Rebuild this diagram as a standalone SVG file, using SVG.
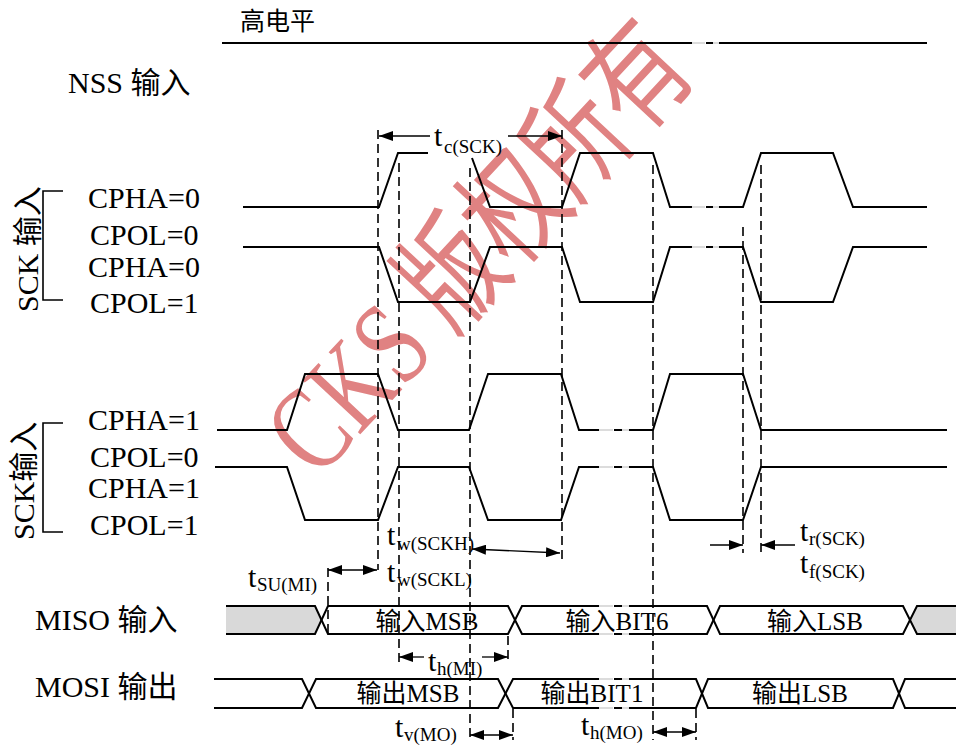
<svg xmlns="http://www.w3.org/2000/svg" width="956" height="745" viewBox="0 0 956 745">
<defs>
<style>
text { font-family: "Liberation Serif", "Noto Sans CJK SC", serif; fill: #000; }
.lbl { font-size: 30px; }
.bus { font-size: 25px; text-anchor: middle; }
.t { font-size: 30px; }
.sub { font-size: 19px; }
.wave { fill: none; stroke: #000; stroke-width: 2; stroke-linejoin: miter; }
.faint { fill: none; stroke: #dcdcdc; stroke-width: 2; }
.dash { fill: none; stroke: #000; stroke-width: 1.6; stroke-dasharray: 9 5; }
.arr { fill: none; stroke: #000; stroke-width: 1.3; }
.brk { fill: none; stroke: #000; stroke-width: 1.6; }
.gray { fill: #d9d9d9; stroke: none; }
.wm { font-size: 93px; fill: #e08282; }
</style>
<marker id="ah" viewBox="0 0 14 10" refX="14" refY="5" markerWidth="14" markerHeight="10" markerUnits="userSpaceOnUse" orient="auto-start-reverse">
<path d="M0,0 L14,5 L0,10 z" fill="#000"/>
</marker>
</defs>
<rect width="956" height="745" fill="#fff"/>

<g id="watermark">
<text class="wm" transform="translate(508,276) rotate(-47) scale(0.97,1.3)" text-anchor="middle">CKS 版权所有</text>
</g>

<g id="nss">
<text class="lbl" x="68" y="93">NSS 输入</text>
<text x="240" y="30" font-size="25">高电平</text>
<path class="wave" d="M222,43 H692 M706,43 H713 M719,43 H927"/>
<path class="faint" d="M692,43 H705 M713,43 H719"/>
</g>

<g id="sck-cpha0">
<text class="lbl" transform="translate(38,312) rotate(-90)">SCK 输入</text>
<path class="brk" d="M63,191 H43 V300 H63"/>
<text class="lbl" x="88" y="208">CPHA=0</text>
<text class="lbl" x="90" y="245">CPOL=0</text>
<text class="lbl" x="88" y="277">CPHA=0</text>
<text class="lbl" x="90" y="313">CPOL=1</text>
<path class="wave" d="M243,207 H379 L398,153 H428 M472,158 L490,207 H562 L580,153 H653 L670,207 H692 M706,207 H713 M719,207 H743 L761,153 H833 L853,207 H927"/>
<path class="wave" d="M243,247 H379 L398,302 H470 L490,247 H562 L580,302 H653 L670,247 H692 M706,247 H713 M719,247 H743 L761,302 H833 L853,247 H927"/>
<path class="faint" d="M692,207 H705 M713,207 H719 M692,247 H705 M713,247 H719"/>
</g>

<g id="sck-cpha1">
<text class="lbl" transform="translate(34,540) rotate(-90)">SCK输入</text>
<path class="brk" d="M63,423 H43 V532 H63"/>
<text class="lbl" x="88" y="430">CPHA=1</text>
<text class="lbl" x="90" y="467">CPOL=0</text>
<text class="lbl" x="88" y="498">CPHA=1</text>
<text class="lbl" x="90" y="535">CPOL=1</text>
<path class="wave" d="M217,430 H287 L305,374 H378 L398,430 H469 L488,374 H561 L579,430 H599 M614,430 H622 M629,430 H653 L670,374 H743 L761,430 H947"/>
<path class="wave" d="M215,467 H287 L305,520 H378 L398,467 H469 L488,520 H561 L579,467 H599 M614,467 H622 M629,467 H653 L670,520 H743 L761,467 H947"/>
<path class="faint" d="M599,430 H613 M622,430 H629 M599,467 H613 M622,467 H629"/>
</g>

<g id="miso">
<text class="lbl" x="35" y="630">MISO 输入</text>
<path class="gray" d="M226,606 H315 L321.5,620 L315,634 H226 z"/>
<path class="gray" d="M917,606 L910,620 L917,634 H956 V606 z"/>
<path class="wave" d="M226,606 H315 L328,634 H508 L522,606 H599 M614,606 H622 M629,606 H707 L720,634 H903 L917,606 H956"/>
<path class="wave" d="M226,634 H315 L328,606 H508 L522,634 H599 M614,634 H622 M629,634 H707 L720,606 H903 L917,634 H956"/>
<path class="faint" d="M599,606 H613 M622,606 H629 M599,634 H613 M622,634 H629"/>
<text class="bus" x="427" y="630">输入MSB</text>
<text class="bus" x="617" y="630">输入BIT6</text>
<text class="bus" x="815" y="630">输入LSB</text>
</g>

<g id="mosi">
<text class="lbl" x="35" y="697">MOSI 输出</text>
<path class="wave" d="M214,679 H302 L316,708 H498 L513,679 H599 M614,679 H622 M629,679 H696 L708,708 H893 L905,679 H956"/>
<path class="wave" d="M214,708 H302 L316,679 H498 L513,708 H599 M614,708 H622 M629,708 H696 L708,679 H893 L905,708 H956"/>
<path class="faint" d="M599,679 H613 M622,679 H629 M599,708 H613 M622,708 H629"/>
<text class="bus" x="408" y="702">输出MSB</text>
<text class="bus" x="592" y="702">输出BIT1</text>
<text class="bus" x="800" y="702">输出LSB</text>
</g>

<g id="timing-labels">
<text class="t" x="434" y="146">t</text><text class="sub" x="444" y="153">c(SCK)</text>
<text class="t" x="387" y="545">t</text><text class="sub" x="397" y="550">w(SCKH)</text>
<text class="t" x="387" y="582">t</text><text class="sub" x="397" y="586">w(SCKL)</text>
<text class="t" x="248" y="587">t</text><text class="sub" x="257" y="591">SU(MI)</text>
<text class="t" x="428" y="671">t</text><text class="sub" x="437" y="675">h(MI)</text>
<text class="t" x="395" y="737">t</text><text class="sub" x="404" y="741">v(MO)</text>
<text class="t" x="581" y="735">t</text><text class="sub" x="590" y="739">h(MO)</text>
<text class="t" x="800" y="541">t</text><text class="sub" x="809" y="545">r(SCK)</text>
<text class="t" x="800" y="573">t</text><text class="sub" x="809" y="578">f(SCK)</text>
</g>

<g id="connectors">
<path class="dash" d="M378,130 V570"/>
<path class="dash" d="M399,163 V663"/>
<path class="dash" d="M470,168 V740"/>
<path class="dash" d="M562,130 V563"/>
<path class="dash" d="M653,165 V740"/>
<path class="dash" d="M743,227 V553"/>
<path class="dash" d="M761,165 V553"/>
<path class="dash" d="M328,568 V634"/>
<path class="dash" d="M508,636 V663"/>
<path class="dash" d="M513,709 V740"/>
<path class="dash" d="M696,709 V740"/>
<line class="arr" x1="430" y1="136" x2="379" y2="136" marker-end="url(#ah)"/>
<line class="arr" x1="508" y1="136" x2="562" y2="136" marker-end="url(#ah)"/>
<line class="arr" x1="472" y1="549" x2="560" y2="553" marker-start="url(#ah)" marker-end="url(#ah)"/>
<line class="arr" x1="328" y1="570" x2="377" y2="570" marker-start="url(#ah)" marker-end="url(#ah)"/>
<line class="arr" x1="424" y1="657" x2="399" y2="657" marker-end="url(#ah)"/>
<line class="arr" x1="482" y1="657" x2="508" y2="657" marker-end="url(#ah)"/>
<line class="arr" x1="470" y1="735" x2="513" y2="735" marker-start="url(#ah)" marker-end="url(#ah)"/>
<line class="arr" x1="653" y1="732" x2="696" y2="732" marker-start="url(#ah)" marker-end="url(#ah)"/>
<line class="arr" x1="710" y1="545" x2="743" y2="545" marker-end="url(#ah)"/>
<line class="arr" x1="795" y1="545" x2="761" y2="545" marker-end="url(#ah)"/>
</g>
</svg>
